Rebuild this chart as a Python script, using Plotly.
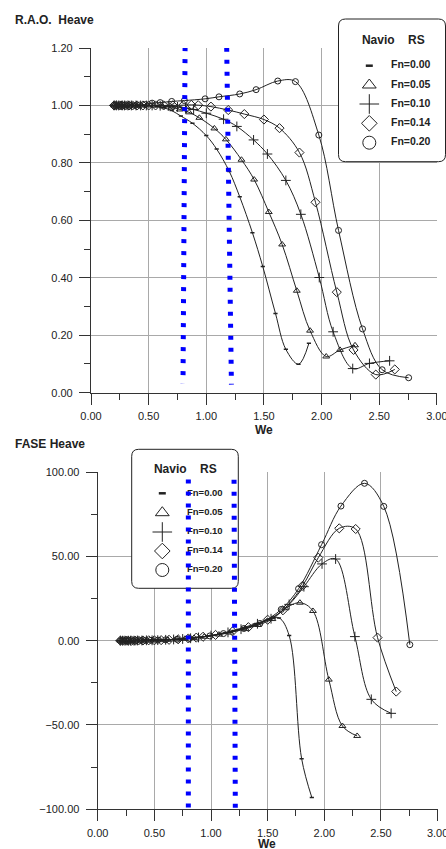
import plotly.graph_objects as go

# ------------------------------------------------------------------
# Heave response of "Navio RS" for several Froude numbers
# ------------------------------------------------------------------
fn_labels = ["Fn=0.00", "Fn=0.05", "Fn=0.10", "Fn=0.14", "Fn=0.20"]

# encounter frequency We for each Froude number
we_fn000 = [0.20, 0.22, 0.24, 0.26, 0.28, 0.30, 0.32, 0.35, 0.38, 0.42, 0.46, 0.51, 0.57, 0.63,
            0.70, 0.78, 0.88, 1.00, 1.09, 1.20, 1.29, 1.40, 1.49, 1.60, 1.69, 1.80, 1.89]
we_fn005 = [0.20, 0.22, 0.24, 0.26, 0.28, 0.30, 0.33, 0.36, 0.40, 0.44, 0.49, 0.55, 0.62, 0.70,
            0.77, 0.85, 0.94, 1.07, 1.17, 1.305, 1.415, 1.542, 1.658, 1.785, 1.90, 2.04, 2.16, 2.29]
we_fn010 = [0.20, 0.22, 0.24, 0.27, 0.29, 0.32, 0.35, 0.39, 0.43, 0.48, 0.53, 0.60, 0.67, 0.75,
            0.82, 0.89, 1.00, 1.15, 1.265, 1.41, 1.53, 1.69, 1.82, 1.98, 2.10, 2.27, 2.415, 2.59]
we_fn014 = [0.20, 0.22, 0.25, 0.27, 0.30, 0.33, 0.36, 0.40, 0.45, 0.50, 0.56, 0.63, 0.71, 0.80,
            0.87, 0.93, 1.04, 1.19, 1.33, 1.50, 1.635, 1.808, 1.947, 2.132, 2.277, 2.47, 2.635]
we_fn020 = [0.20, 0.23, 0.25, 0.28, 0.31, 0.34, 0.38, 0.42, 0.47, 0.53, 0.60, 0.70, 0.81, 0.99,
            1.11, 1.29, 1.432, 1.62, 1.773, 1.976, 2.147, 2.355, 2.525, 2.755]

# R.A.O. heave amplitude
rao_fn000 = [1.000, 1.000, 1.000, 1.000, 1.000, 1.000, 1.000, 1.000, 1.000, 1.000, 1.000, 0.999, 0.997, 0.992,
             0.982, 0.963, 0.938, 0.895, 0.848, 0.770, 0.682, 0.557, 0.439, 0.276, 0.151, 0.099, 0.172]
rao_fn005 = [1.000, 1.000, 1.000, 1.000, 1.000, 1.000, 1.000, 1.000, 1.000, 1.000, 1.000, 0.999, 0.997, 0.993,
             0.986, 0.976, 0.957, 0.920, 0.882, 0.811, 0.742, 0.629, 0.516, 0.355, 0.216, 0.126, 0.149, 0.165]
rao_fn010 = [1.000, 1.000, 1.000, 1.000, 1.000, 1.000, 1.000, 1.000, 1.000, 1.000, 1.000, 0.999, 0.998, 0.995,
             0.991, 0.986, 0.973, 0.952, 0.927, 0.880, 0.831, 0.739, 0.621, 0.401, 0.212, 0.084, 0.102, 0.111]
rao_fn014 = [1.000, 1.000, 1.000, 1.000, 1.000, 1.000, 1.000, 1.000, 1.000, 1.000, 1.000, 1.000, 1.000, 1.001,
             1.002, 1.001, 0.996, 0.984, 0.970, 0.951, 0.921, 0.836, 0.663, 0.350, 0.149, 0.063, 0.081]
rao_fn020 = [1.000, 1.000, 1.000, 1.000, 1.000, 1.000, 1.000, 1.001, 1.003, 1.008, 1.010, 1.014, 1.017, 1.023,
             1.030, 1.040, 1.055, 1.085, 1.083, 0.897, 0.565, 0.222, 0.080, 0.052]

# heave phase (degrees)
fase_fn000 = [0.0, 0.0, 0.0, 0.0, 0.0, 0.0, 0.1, 0.1, 0.1, 0.2, 0.2, 0.3, 0.4, 0.6,
              0.9, 1.3, 2.0, 3.0, 4.2, 6.0, 7.8, 10.2, 12.3, 13.5, 3.0, -70.0, -93.0]
fase_fn005 = [0.0, 0.0, 0.0, 0.0, 0.0, 0.0, 0.1, 0.1, 0.1, 0.2, 0.2, 0.3, 0.5, 0.8,
              1.1, 1.6, 2.3, 3.6, 4.8, 7.0, 9.3, 12.8, 19.2, 22.5, 17.6, -23.1, -50.6, -56.5]
fase_fn010 = [0.0, 0.0, 0.0, 0.0, 0.0, 0.0, 0.1, 0.1, 0.2, 0.2, 0.3, 0.5, 0.7, 1.0,
              1.4, 1.9, 3.0, 4.9, 6.8, 10.0, 13.0, 21.5, 32.0, 45.5, 48.4, 2.4, -34.8, -43.1]
fase_fn014 = [0.0, 0.0, 0.0, 0.0, 0.0, 0.0, 0.1, 0.1, 0.2, 0.2, 0.3, 0.5, 0.8, 1.3,
              1.8, 2.3, 3.4, 5.5, 8.0, 12.4, 18.0, 32.5, 49.2, 66.6, 66.2, 1.8, -30.2]
fase_fn020 = [0.0, 0.0, 0.0, 0.0, 0.0, 0.0, 0.1, 0.1, 0.2, 0.3, 0.5, 0.8, 1.3, 2.8,
              4.2, 7.2, 10.2, 18.5, 30.8, 56.9, 79.8, 93.3, 79.6, -2.4]

we_all = [we_fn000, we_fn005, we_fn010, we_fn014, we_fn020]
rao_all = [rao_fn000, rao_fn005, rao_fn010, rao_fn014, rao_fn020]
fase_all = [fase_fn000, fase_fn005, fase_fn010, fase_fn014, fase_fn020]

# blue dotted reference frequencies (start / end of each line)
ref_rao_x = [[0.816, 0.798], [1.177, 1.218]]
ref_rao_y = [[1.203, 0.033], [1.201, 0.028]]
ref_fase_x = [[0.800, 0.800], [1.203, 1.215]]
ref_fase_y = [[95.5, -99.5], [102.5, -105.0]]

# ------------------------------------------------------------------
# page geometry (pixels) and styling
# ------------------------------------------------------------------
W, H = 446, 849
FONT = "Liberation Sans"
INK = "#222222"
AXIS = "#333333"
GRID = "#a9a9a9"
BLUE = "#0000ff"

TOP = dict(l=91.0, r=437.0, t=48.0, b=392.7, x=(0.0, 3.001), y=(0.0, 1.2))
BOT = dict(l=97.7, r=437.7, t=472.0, b=809.3, x=(0.0, 3.001), y=(-100.0, 100.0))

symbols = ["line-ew", "triangle-up-open", "cross-thin", "diamond-open", "circle-open"]
curve_sizes = [3, 6, 7, 7, 6]
curve_widths = [1.5, 1, 1, 1, 1]
key_sizes = [5, 12, 14, 12, 13]
key_widths = [2.5, 1, 1, 1, 1]

# key boxes in page pixels: frame, title position, symbol column, rows, text column, text size
keys = [
    dict(frame=(338.5, 19.0, 445.5, 161.7), title=(393.3, 40.5), sym_x=369.3,
         rows=[65.7, 85.0, 104.0, 123.3, 142.7], text_x=391.0, text_size=10.5),
    dict(frame=(131.7, 449.3, 238.3, 588.3), title=(185.3, 470.0), sym_x=162.3,
         rows=[493.3, 512.7, 532.0, 551.0, 570.0], text_x=187.0, text_size=9.5),
]

fig = go.Figure()


def add_curves(values, xa, ya):
    for i in range(5):
        fig.add_trace(go.Scatter(x=we_all[i], y=values[i], mode="lines+markers", hoverinfo="skip",
                                 line=dict(color=INK, width=1, shape="spline", smoothing=1.0),
                                 marker=dict(symbol=symbols[i], size=curve_sizes[i], color=INK,
                                             line=dict(color=INK, width=curve_widths[i])),
                                 xaxis=xa, yaxis=ya))


def add_refs(xs, ys, xa, ya):
    for x, y in zip(xs, ys):
        fig.add_trace(go.Scatter(x=x, y=y, mode="lines", hoverinfo="skip",
                                 line=dict(color=BLUE, width=5, dash="4px,8px"),
                                 xaxis=xa, yaxis=ya))


# subplot xy: R.A.O. panel
add_curves(rao_all, "x", "y")
add_refs(ref_rao_x, ref_rao_y, "x", "y")

# subplot x2y2: phase panel curves
add_curves(fase_all, "x2", "y2")

# subplot x3y3: page-sized layer (pixel units) holding both keys
for k in keys:
    fig.add_trace(go.Scatter(x=[k["title"][0]], y=[k["title"][1]], mode="text", text=["Navio    RS"],
                             textposition="middle center", cliponaxis=False, hoverinfo="skip",
                             textfont=dict(family=FONT, size=12, color=INK, weight="bold"),
                             xaxis="x3", yaxis="y3"))
    for i, row in enumerate(k["rows"]):
        fig.add_trace(go.Scatter(x=[k["sym_x"]], y=[row], mode="markers", cliponaxis=False,
                                 hoverinfo="skip",
                                 marker=dict(symbol=symbols[i], size=key_sizes[i], color=INK,
                                             line=dict(color=INK, width=key_widths[i])),
                                 xaxis="x3", yaxis="y3"))
    fig.add_trace(go.Scatter(x=[k["text_x"]] * 5, y=k["rows"], mode="text",
                             text=fn_labels, textposition="middle right", cliponaxis=False,
                             hoverinfo="skip",
                             textfont=dict(family=FONT, size=k["text_size"], color=INK, weight="bold"),
                             xaxis="x3", yaxis="y3"))

# subplot x4y4: blue reference lines of the phase panel, drawn over its key
add_refs(ref_fase_x, ref_fase_y, "x4", "y4")


def rounded_path(left, top, right, bottom, r=7.0):
    return (f"M {left + r},{bottom} L {right - r},{bottom} Q {right},{bottom} {right},{bottom - r} "
            f"L {right},{top + r} Q {right},{top} {right - r},{top} L {left + r},{top} "
            f"Q {left},{top} {left},{top + r} L {left},{bottom - r} Q {left},{bottom} {left + r},{bottom} Z")


for k in keys:
    fig.add_shape(type="path", path=rounded_path(*k["frame"]), xref="x3", yref="y3",
                  layer="below", fillcolor="white", line=dict(color=INK, width=1))


def axis_style(box, which, dtick, minor_dtick):
    if which == "x":
        domain = [box["l"] / W, box["r"] / W]
        rng = list(box["x"])
        standoff = 2
    else:
        domain = [(H - box["b"]) / H, (H - box["t"]) / H]
        rng = list(box["y"])
        standoff = 4
    return dict(domain=domain, range=rng, dtick=dtick, tick0=rng[0], tickformat=".2f",
                showline=True, linecolor=AXIS, linewidth=1.2, mirror=False,
                ticks="outside", ticklen=11, tickwidth=1, tickcolor=AXIS,
                ticklabelstandoff=standoff, ticklabeloverflow="allow", automargin=False,
                showgrid=True, gridcolor=GRID, gridwidth=1, zeroline=False,
                tickfont=dict(family=FONT, size=11, color=INK),
                minor=dict(dtick=minor_dtick, ticks="outside", ticklen=6, tickwidth=1,
                           tickcolor=AXIS, showgrid=False))


def hidden_axis(domain, rng, anchor):
    return dict(domain=domain, range=rng, visible=False, showgrid=False, zeroline=False,
                automargin=False, fixedrange=True, anchor=anchor)


bot_x = axis_style(BOT, "x", 0.5, 0.25)
bot_y = axis_style(BOT, "y", 50, 25)

fig.update_layout(
    width=W, height=H, autosize=False,
    margin=dict(l=0, r=0, t=0, b=0, pad=0, autoexpand=False),
    paper_bgcolor="white", plot_bgcolor="rgba(0,0,0,0)", showlegend=False,
    font=dict(family=FONT, color=INK),
    xaxis=dict(axis_style(TOP, "x", 0.5, 0.25), anchor="y"),
    yaxis=dict(axis_style(TOP, "y", 0.2, 0.1), anchor="x"),
    xaxis2=dict(bot_x, anchor="y2"),
    yaxis2=dict(bot_y, anchor="x2"),
    xaxis3=hidden_axis([0, 1], [0, W], "y3"),
    yaxis3=hidden_axis([0, 1], [H, 0], "x3"),
    xaxis4=hidden_axis(bot_x["domain"], bot_x["range"], "y4"),
    yaxis4=hidden_axis(bot_y["domain"], bot_y["range"], "x4"),
)

# panel titles and axis titles
for text, x, y, anchor in [("R.A.O.  Heave", 12.7, 20.0, "left"),
                           ("FASE Heave", 12.7, 444.0, "left"),
                           ("We", 263.7, 430.0, "center"),
                           ("We", 267.0, 843.5, "center")]:
    fig.add_annotation(text=text, xref="paper", yref="paper", x=x / W, y=(H - y) / H,
                       xanchor=anchor, yanchor="middle", showarrow=False,
                       font=dict(family=FONT, size=12, color=INK, weight="bold"))

fig.write_html("out.html", config=dict(responsive=False))
